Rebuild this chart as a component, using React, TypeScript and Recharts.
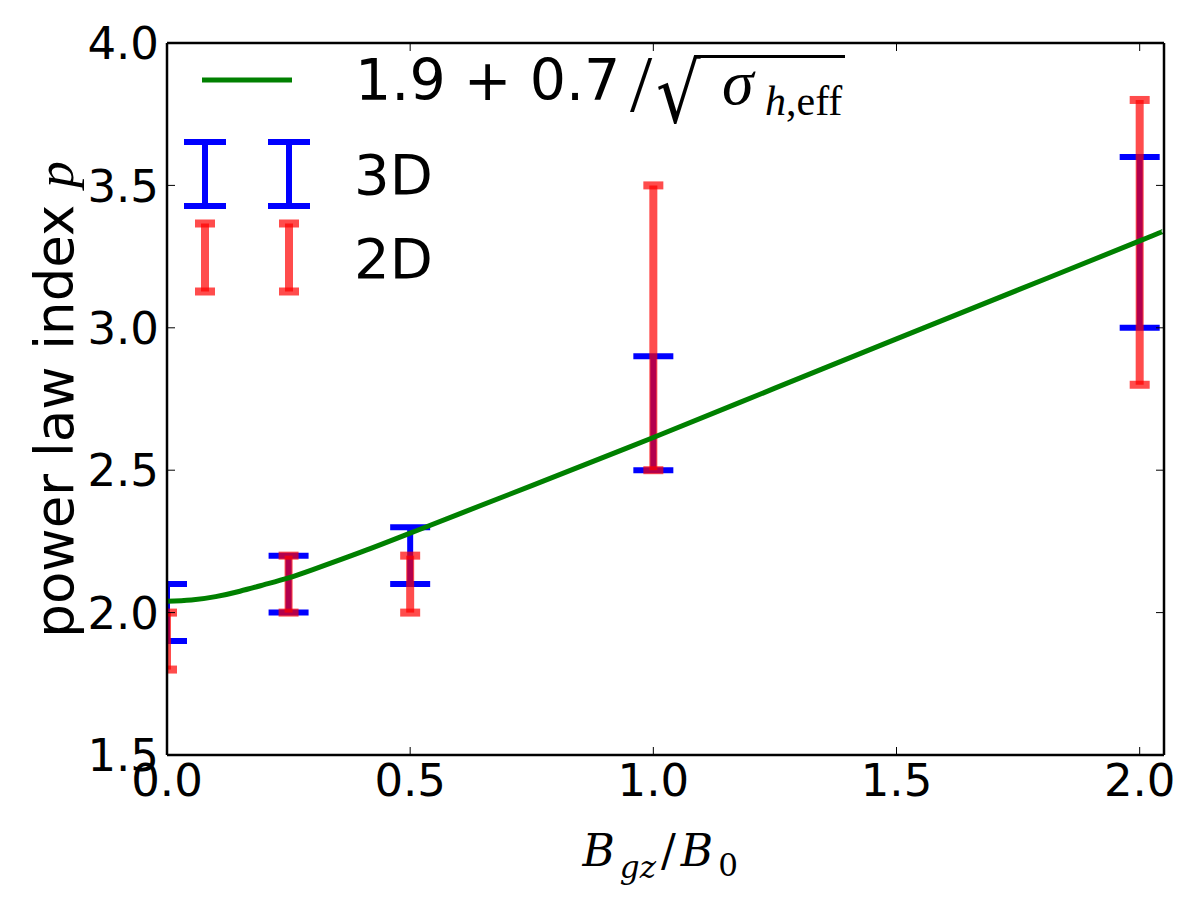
import { ComposedChart, Line, Scatter, ErrorBar, XAxis, YAxis, Legend, Label } from 'recharts';

// B_gz / B_0 of each run
const runX = [0, 0.25, 0.5, 1.0, 2.0];
// range of the fitted power law index, 3D runs
const low3D = [1.9, 2.0, 2.1, 2.5, 3.0];
const high3D = [2.1, 2.2, 2.3, 2.9, 3.6];
// range of the fitted power law index, 2D runs
const low2D = [1.8, 2.0, 2.0, 2.5, 2.8];
const high2D = [2.0, 2.2, 2.2, 3.5, 3.8];

// model curve 1.9 + 0.7/sqrt(sigma_h,eff), sampled along B_gz/B_0
const curveX = [0, 0.05, 0.1, 0.15, 0.2, 0.25, 0.3, 0.4, 0.5, 0.6, 0.75, 1.0, 1.25, 1.5, 1.75, 2.0, 2.05];
const curveP = [2.04, 2.044, 2.056, 2.075, 2.098, 2.122, 2.151, 2.213, 2.279, 2.346, 2.446, 2.615, 2.788, 2.961, 3.133, 3.305, 3.34];

const xTicks = [0, 0.5, 1.0, 1.5, 2.0];
const yTicks = [1.5, 2.0, 2.5, 3.0, 3.5, 4.0];

const SANS = "'DejaVu Sans', sans-serif";
const SERIF = "'Liberation Serif', 'DejaVu Serif', serif";
const MATH = "'DejaVu Serif', serif";

// layout of the axes box
const W = 1200;
const H = 900;
const MARGIN = { top: 43, right: 36, bottom: 0, left: 0 };
const Y_AXIS_W = 167;
const X_AXIS_H = 145;
const PLOT = {
  x: MARGIN.left + Y_AXIS_W,
  y: MARGIN.top + 1,
  width: W - MARGIN.left - Y_AXIS_W - MARGIN.right - 1,
  height: H - MARGIN.top - 1 - X_AXIS_H,
};

const toRows = (lo: number[], hi: number[]) =>
  runX.map((x, i) => ({ x, mid: (lo[i] + hi[i]) / 2, err: (hi[i] - lo[i]) / 2 }));

const rows3D = toRows(low3D, high3D);
const rows2D = toRows(low2D, high2D);
const curveRows = curveX.map((x, i) => ({ x, p: curveP[i] }));

const BottomTick = (props: any) => {
  const { x, y, payload } = props;
  return (
    <g>
      <line x1={x} y1={y} x2={x} y2={y - 8} stroke="#000" strokeWidth={1} />
      <text x={x} y={y + 9} dy="0.71em" textAnchor="middle" fontFamily={SANS} fontSize={45} fill="#000">
        {payload.value.toFixed(1)}
      </text>
    </g>
  );
};

const LeftTick = (props: any) => {
  const { x, y, payload } = props;
  return (
    <g>
      <line x1={x} y1={y} x2={x + 8} y2={y} stroke="#000" strokeWidth={1} />
      <text x={x - 8} y={y} dy="0.36em" textAnchor="end" fontFamily={SANS} fontSize={45} fill="#000">
        {payload.value.toFixed(1)}
      </text>
    </g>
  );
};

const noLabel = () => <g />;

// errorbar glyph used as legend handle
const ErrIcon = ({ cx, cy, half, h, color, width, opacity }: any) => (
  <g stroke={color} strokeWidth={width} strokeOpacity={opacity}>
    <line x1={cx} y1={cy - h} x2={cx} y2={cy + h} />
    <line x1={cx - half} y1={cy - h} x2={cx + half} y2={cy - h} />
    <line x1={cx - half} y1={cy + h} x2={cx + half} y2={cy + h} />
  </g>
);

const renderLegend = () => (
  <svg width={900} height={320} style={{ display: 'block' }}>
    {/* model curve */}
    <line x1={202} x2={292} y1={80} y2={80} stroke="#008000" strokeWidth={5} />
    <text x={355} y={100} fontFamily={SANS} fontSize={57} fill="#000">1.9 + 0.7</text>
    <text x={630} y={111} fontFamily={SERIF} fontSize={80} fill="#000">/</text>
    <text x={0} y={0} transform="translate(656,122) scale(0.7,0.83)" fontFamily={SANS} fontSize={100} fill="#000">√</text>
    <line x1={696} x2={845} y1={56.5} y2={56.5} stroke="#000" strokeWidth={3} />
    <text x={722} y={104} fontFamily={SERIF} fontStyle="italic" fontSize={64} fill="#000">σ</text>
    <text x={765} y={115} fontFamily={SERIF} fontSize={42} fill="#000">
      <tspan fontStyle="italic">h</tspan>,eff
    </text>

    {/* 3D runs */}
    <ErrIcon cx={205} cy={174} half={21} h={32} color="#0000ff" width={6} opacity={1} />
    <ErrIcon cx={289} cy={174} half={21} h={32} color="#0000ff" width={6} opacity={1} />
    <text x={354} y={194} fontFamily={SANS} fontSize={56} fill="#000">3D</text>

    {/* 2D runs */}
    <ErrIcon cx={205} cy={257.5} half={10} h={34} color="#ff0000" width={8} opacity={0.7} />
    <ErrIcon cx={289} cy={257.5} half={10} h={34} color="#ff0000" width={8} opacity={0.7} />
    <text x={354} y={278} fontFamily={SANS} fontSize={56} fill="#000">2D</text>
  </svg>
);

const XTitle = (props: any) => {
  const { viewBox } = props;
  const x = viewBox.x + viewBox.width / 2 - 83;
  const y = viewBox.y + 111;
  return (
    <text x={x} y={y} fontFamily={MATH} fontStyle="italic" fontSize={44} fill="#000">
      <tspan>B</tspan>
      <tspan fontSize={31} dx={5} dy={12}>gz</tspan>
      <tspan dx={5} dy={-12} fontStyle="normal">/</tspan>
      <tspan dx={5}>B</tspan>
      <tspan fontSize={31} dx={5} dy={10} fontStyle="normal">0</tspan>
    </text>
  );
};

const YTitle = () => {
  const x = 73;
  const y = PLOT.y + PLOT.height / 2;
  return (
    <text x={x} y={y} transform={`rotate(-90, ${x}, ${y})`} textAnchor="middle" fontFamily={SANS} fontSize={53} fill="#000">
      power law index <tspan fontFamily={SERIF} fontStyle="italic">p</tspan>
    </text>
  );
};

const frame = { stroke: '#000', strokeWidth: 2.5 };
const inTick = { stroke: '#000', strokeWidth: 1 };

export default function App() {
  return (
    <div style={{ position: 'fixed', left: 0, top: 0, width: W, height: H, background: '#fff' }}>
      <ComposedChart width={W} height={H} margin={MARGIN}>
        <defs>
          <clipPath id="axes-clip">
            <rect x={PLOT.x} y={PLOT.y} width={PLOT.width} height={PLOT.height} />
          </clipPath>
        </defs>
        <XAxis
          dataKey="x"
          type="number"
          domain={[0, 2.05]}
          ticks={xTicks}
          allowDataOverflow
          height={X_AXIS_H}
          tickSize={0}
          tickMargin={0}
          tick={BottomTick}
          axisLine={frame}
          tickLine={false}
        >
          <Label content={XTitle} />
        </XAxis>
        <XAxis
          xAxisId="top"
          orientation="top"
          dataKey="x"
          type="number"
          domain={[0, 2.05]}
          ticks={xTicks}
          allowDataOverflow
          mirror
          height={1}
          tickSize={8}
          tick={noLabel}
          axisLine={frame}
          tickLine={inTick}
        />
        <YAxis
          type="number"
          domain={[1.5, 4.0]}
          ticks={yTicks}
          allowDataOverflow
          width={Y_AXIS_W}
          tickSize={0}
          tickMargin={0}
          tick={LeftTick}
          axisLine={frame}
          tickLine={false}
        >
          <Label content={YTitle} />
        </YAxis>
        <YAxis
          yAxisId="right"
          orientation="right"
          type="number"
          domain={[1.5, 4.0]}
          ticks={yTicks}
          allowDataOverflow
          mirror
          width={1}
          tickSize={8}
          tick={noLabel}
          axisLine={frame}
          tickLine={inTick}
        />
        <Scatter name="3D" data={rows3D} dataKey="mid" shape={noLabel} isAnimationActive={false}>
          <ErrorBar
            dataKey="err"
            direction="y"
            width={20}
            stroke="#0000ff"
            strokeWidth={6}
            clipPath="url(#axes-clip)"
            isAnimationActive={false}
          />
        </Scatter>
        <Scatter name="2D" data={rows2D} dataKey="mid" shape={noLabel} isAnimationActive={false}>
          <ErrorBar
            dataKey="err"
            direction="y"
            width={10}
            stroke="#ff0000"
            strokeOpacity={0.7}
            strokeWidth={8}
            clipPath="url(#axes-clip)"
            isAnimationActive={false}
          />
        </Scatter>
        <Line
          data={curveRows}
          dataKey="p"
          type="natural"
          stroke="#008000"
          strokeWidth={5}
          dot={false}
          activeDot={false}
          isAnimationActive={false}
        />
        <Legend
          layout="vertical"
          align="center"
          verticalAlign="middle"
          content={renderLegend}
          wrapperStyle={{ left: 0, top: 0, width: 900, height: 320 }}
        />
      </ComposedChart>
    </div>
  );
}
